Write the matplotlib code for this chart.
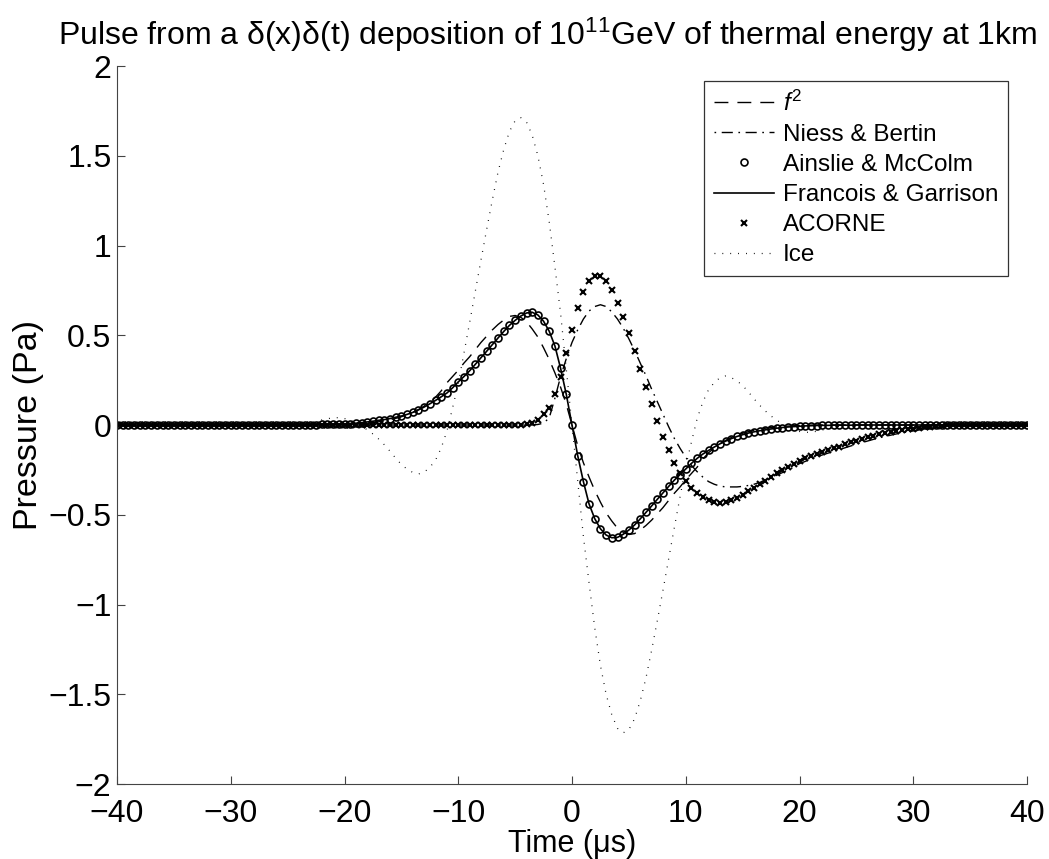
import numpy as np
import matplotlib
matplotlib.use("Agg")
import matplotlib.pyplot as plt

plt.rcParams['font.family'] = ['Liberation Sans', 'DejaVu Sans']
plt.rcParams['mathtext.fontset'] = 'custom'
plt.rcParams['mathtext.rm'] = 'Liberation Sans'
plt.rcParams['mathtext.it'] = 'Liberation Sans:italic'

# time grid (microseconds), 0.5 us sampling
time_us = np.linspace(-40, 40, 161)

# rows of 10 samples: t = -40..-35.5, -35..-30.5, ... , 35..39.5, then t = 40
f_squared = [
    0, 0, 0, 0, 0, 0, 0, 0, 0, 0,
    0, 0, 0, 0, 0, 0, 0, 0, 0, 0,
    0, 0, 0, 0, 0, 0, 0, 0, 0, 0,
    0, 0, 0, 0, 0, 0, 0, 0, 0.001, 0.002,
    0.003, 0.004, 0.006, 0.008, 0.011, 0.014, 0.018, 0.023, 0.029, 0.037,
    0.046, 0.057, 0.070, 0.086, 0.105, 0.128, 0.155, 0.190, 0.235, 0.270,
    0.305, 0.345, 0.380, 0.420, 0.460, 0.495, 0.530, 0.560, 0.585, 0.605,
    0.610, 0.600, 0.575, 0.535, 0.490, 0.430, 0.365, 0.290, 0.210, 0.115,
    0.0, -0.115, -0.210, -0.290, -0.365, -0.430, -0.490, -0.535, -0.575, -0.600,
    -0.610, -0.605, -0.585, -0.560, -0.530, -0.495, -0.460, -0.420, -0.380, -0.345,
    -0.305, -0.270, -0.235, -0.190, -0.155, -0.128, -0.105, -0.086, -0.070, -0.057,
    -0.046, -0.037, -0.029, -0.023, -0.018, -0.014, -0.011, -0.008, -0.006, -0.004,
    -0.003, -0.002, -0.001, 0, 0, 0, 0, 0, 0, 0,
    0, 0, 0, 0, 0, 0, 0, 0, 0, 0,
    0, 0, 0, 0, 0, 0, 0, 0, 0, 0,
    0, 0, 0, 0, 0, 0, 0, 0, 0, 0,
    0,
]

niess_bertin = [
    0, 0, 0, 0, 0, 0, 0, 0, 0, 0,
    0, 0, 0, 0, 0, 0, 0, 0, 0, 0,
    0, 0, 0, 0, 0, 0, 0, 0, 0, 0,
    0, 0, 0, 0, 0, 0, 0, 0, 0, 0,
    0, 0, 0, 0, 0, 0, 0, 0, 0, 0,
    0, 0, 0, 0, 0, 0, 0, 0, 0, 0,
    0, 0, 0, 0, 0, 0, 0, 0, 0, 0,
    0, 0, 0, 0, 0.003, 0.010, 0.040, 0.150, 0.270, 0.370,
    0.460, 0.530, 0.590, 0.635, 0.660, 0.670, 0.660, 0.630, 0.590, 0.540,
    0.480, 0.415, 0.345, 0.275, 0.200, 0.130, 0.060, -0.010, -0.075, -0.130,
    -0.180, -0.225, -0.260, -0.290, -0.315, -0.330, -0.340, -0.345, -0.345, -0.345,
    -0.342, -0.337, -0.330, -0.320, -0.308, -0.295, -0.280, -0.265, -0.250, -0.235,
    -0.215, -0.203, -0.190, -0.178, -0.167, -0.157, -0.147, -0.137, -0.127, -0.117,
    -0.107, -0.098, -0.089, -0.080, -0.072, -0.064, -0.057, -0.050, -0.044, -0.038,
    -0.033, -0.028, -0.023, -0.019, -0.015, -0.011, -0.008, -0.005, -0.003, -0.001,
    0, 0, 0, 0, 0, 0, 0, 0, 0, 0,
    0,
]

ainslie_mccolm = [
    0, 0, 0, 0, 0, 0, 0, 0, 0, 0,
    0, 0, 0, 0, 0, 0, 0, 0, 0, 0,
    0, 0, 0, 0, 0, 0, 0, 0, 0, 0,
    0.001, 0.001, 0.001, 0.001, 0.002, 0.002, 0.003, 0.003, 0.004, 0.005,
    0.006, 0.008, 0.010, 0.013, 0.017, 0.021, 0.026, 0.030, 0.036, 0.043,
    0.050, 0.059, 0.070, 0.084, 0.100, 0.118, 0.137, 0.157, 0.178, 0.207,
    0.240, 0.270, 0.302, 0.338, 0.375, 0.411, 0.448, 0.485, 0.521, 0.555,
    0.583, 0.607, 0.624, 0.628, 0.613, 0.578, 0.522, 0.440, 0.315, 0.170,
    0.0, -0.170, -0.315, -0.440, -0.522, -0.578, -0.613, -0.628, -0.626, -0.609,
    -0.585, -0.557, -0.523, -0.487, -0.451, -0.414, -0.378, -0.342, -0.307, -0.276,
    -0.245, -0.214, -0.186, -0.162, -0.142, -0.123, -0.105, -0.090, -0.076, -0.064,
    -0.054, -0.045, -0.038, -0.032, -0.027, -0.022, -0.018, -0.014, -0.011, -0.009,
    -0.007, -0.005, -0.004, -0.003, -0.002, -0.002, -0.001, -0.001, -0.001, -0.001,
    0, 0, 0, 0, 0, 0, 0, 0, 0, 0,
    0, 0, 0, 0, 0, 0, 0, 0, 0, 0,
    0, 0, 0, 0, 0, 0, 0, 0, 0, 0,
    0,
]

francois_garrison = [
    0, 0, 0, 0, 0, 0, 0, 0, 0, 0,
    0, 0, 0, 0, 0, 0, 0, 0, 0, 0,
    0, 0, 0, 0, 0, 0, 0, 0, 0, 0,
    0.001, 0.001, 0.001, 0.001, 0.002, 0.002, 0.003, 0.003, 0.004, 0.005,
    0.006, 0.008, 0.010, 0.013, 0.017, 0.021, 0.026, 0.030, 0.036, 0.043,
    0.050, 0.059, 0.070, 0.084, 0.100, 0.118, 0.137, 0.157, 0.178, 0.207,
    0.240, 0.270, 0.302, 0.338, 0.375, 0.411, 0.448, 0.485, 0.521, 0.555,
    0.583, 0.607, 0.624, 0.628, 0.613, 0.578, 0.522, 0.440, 0.315, 0.170,
    0.0, -0.170, -0.315, -0.440, -0.522, -0.578, -0.613, -0.628, -0.626, -0.609,
    -0.585, -0.557, -0.523, -0.487, -0.451, -0.414, -0.378, -0.342, -0.307, -0.276,
    -0.245, -0.214, -0.186, -0.162, -0.142, -0.123, -0.105, -0.090, -0.076, -0.064,
    -0.054, -0.045, -0.038, -0.032, -0.027, -0.022, -0.018, -0.014, -0.011, -0.009,
    -0.007, -0.005, -0.004, -0.003, -0.002, -0.002, -0.001, -0.001, -0.001, -0.001,
    0, 0, 0, 0, 0, 0, 0, 0, 0, 0,
    0, 0, 0, 0, 0, 0, 0, 0, 0, 0,
    0, 0, 0, 0, 0, 0, 0, 0, 0, 0,
    0,
]

acorne = [
    0, 0, 0, 0, 0, 0, 0, 0, 0, 0,
    0, 0, 0, 0, 0, 0, 0, 0, 0, 0,
    0, 0, 0, 0, 0, 0, 0, 0, 0, 0,
    0, 0, 0, 0, 0, 0, 0, 0, 0, 0,
    0, 0, 0, 0, 0, 0, 0, 0, 0, 0,
    0, 0, 0, 0, 0, 0, 0, 0, 0, 0,
    0, 0, 0, 0, 0, 0, 0, 0, 0, 0,
    0, 0, 0.003, 0.010, 0.028, 0.060, 0.097, 0.170, 0.270, 0.400,
    0.530, 0.650, 0.740, 0.800, 0.830, 0.830, 0.800, 0.750, 0.680, 0.600,
    0.510, 0.410, 0.310, 0.210, 0.115, 0.020, -0.065, -0.140, -0.210, -0.265,
    -0.310, -0.350, -0.380, -0.400, -0.420, -0.430, -0.435, -0.430, -0.420, -0.405,
    -0.390, -0.370, -0.350, -0.330, -0.310, -0.290, -0.270, -0.250, -0.235, -0.215,
    -0.200, -0.185, -0.172, -0.160, -0.150, -0.140, -0.130, -0.120, -0.108, -0.097,
    -0.087, -0.077, -0.068, -0.060, -0.052, -0.045, -0.039, -0.034, -0.029, -0.024,
    -0.020, -0.016, -0.012, -0.009, -0.006, -0.004, -0.002, -0.001, 0, 0,
    0, 0, 0, 0, 0, 0, 0, 0, 0, 0,
    0,
]

ice = [
    0, 0, 0, 0, 0, 0, 0, 0, 0, 0,
    0, 0, 0, 0, 0, 0, 0, 0, 0, 0,
    0, 0, 0, 0, 0, 0, 0, 0, 0, 0,
    0, 0, 0.002, 0.006, 0.012, 0.020, 0.028, 0.035, 0.040, 0.041,
    0.036, 0.026, 0.012, -0.006, -0.027, -0.050, -0.078, -0.110, -0.146, -0.185,
    -0.220, -0.246, -0.264, -0.273, -0.263, -0.236, -0.196, -0.128, -0.035, 0.095,
    0.230, 0.400, 0.570, 0.745, 0.920, 1.090, 1.255, 1.410, 1.535, 1.635,
    1.695, 1.712, 1.688, 1.615, 1.500, 1.340, 1.130, 0.880, 0.620, 0.310,
    0.0, -0.310, -0.620, -0.880, -1.130, -1.340, -1.500, -1.615, -1.690, -1.715,
    -1.697, -1.637, -1.537, -1.410, -1.255, -1.090, -0.920, -0.745, -0.570, -0.400,
    -0.230, -0.095, 0.035, 0.128, 0.196, 0.236, 0.263, 0.273, 0.264, 0.246,
    0.220, 0.185, 0.146, 0.110, 0.078, 0.050, 0.027, 0.006, -0.012, -0.026,
    -0.036, -0.041, -0.040, -0.035, -0.028, -0.020, -0.012, -0.006, -0.002, 0,
    0, 0, 0, 0, 0, 0, 0, 0, 0, 0,
    0, 0, 0, 0, 0, 0, 0, 0, 0, 0,
    0, 0, 0, 0, 0, 0, 0, 0, 0, 0,
    0,
]

x_ticks = [-40, -30, -20, -10, 0, 10, 20, 30, 40]
y_ticks = [-2, -1.5, -1, -0.5, 0, 0.5, 1, 1.5, 2]
y_tick_labels = ['\u22122', '\u22121.5', '\u22121', '\u22120.5', '0', '0.5', '1', '1.5', '2']
x_tick_labels = ['\u221240', '\u221230', '\u221220', '\u221210', '0', '10', '20', '30', '40']

W, H = 1049, 859
FS = 23
fig = plt.figure(figsize=(W / 100, H / 100), dpi=100)
ax = fig.add_axes([117 / W, 1 - 784 / H, (1027 - 117) / W, (784 - 66) / H])

ax.plot(time_us, f_squared, color='k', lw=1.0, linestyle=(0, (10, 6.5)), label='$f^2$')
ax.plot(time_us, niess_bertin, color='k', lw=1.0, linestyle=(0, (1.2, 4, 8, 4)),
        label='Niess & Bertin')
ax.plot(time_us, ainslie_mccolm, ls='none', marker='o', ms=5.0, mfc='none', mec='k', mew=1.2,
        label='Ainslie & McColm')
ax.plot(time_us, francois_garrison, color='k', lw=1.2, label='Francois & Garrison')
ax.plot(time_us, acorne, ls='none', marker='x', ms=3.9, mec='k', mew=1.5, label='ACORNE')
ax.plot(time_us, ice, color='k', lw=0.9, linestyle=(0, (0.7, 5.6)), label='Ice')

ax.set_xlim(-40, 40)
ax.set_ylim(-2, 2)
ax.set_xticks(x_ticks)
ax.set_xticklabels(x_tick_labels)
ax.set_yticks(y_ticks)
ax.set_yticklabels(y_tick_labels)
ax.tick_params(direction='in', length=6, width=0.8, labelsize=FS, color='#444444')
ax.tick_params(axis='x', pad=10.5)
ax.tick_params(axis='y', pad=4)
for s in ['top', 'right']:
    ax.spines[s].set_visible(False)
for s in ['left', 'bottom']:
    ax.spines[s].set_color('#444444')
    ax.spines[s].set_linewidth(0.8)

ax.set_xlabel('Time (\u03bcs)', fontsize=22, labelpad=0)
ax.set_ylabel('Pressure (Pa)', fontsize=24.5, labelpad=3)
ax.set_title('Pulse from a \u03b4(x)\u03b4(t) deposition of 10$^{11}$GeV of thermal energy at 1km',
             fontsize=FS, pad=15, x=(548 - 117) / 910)

leg = ax.legend(loc='upper right', bbox_to_anchor=((1008 - 117) / 910, (784 - 81) / 718),
                fontsize=17.5, frameon=True, fancybox=False, borderaxespad=0,
                handlelength=2.5, handletextpad=0.35, labelspacing=0.33, borderpad=0.4,
                markerscale=1.0)
leg.get_frame().set_edgecolor('k')
leg.get_frame().set_linewidth(0.9)

fig.savefig('out.png', dpi=100)
